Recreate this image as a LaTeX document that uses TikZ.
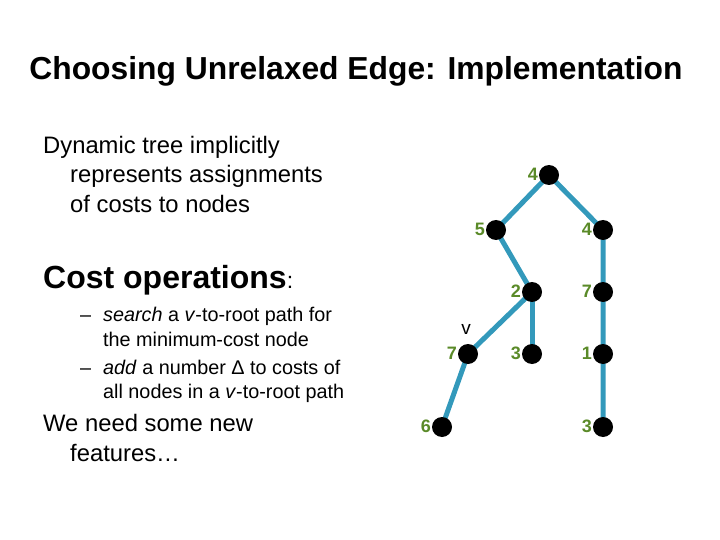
\documentclass[tikz,border=0pt]{standalone}
\usepackage{fontspec}
\setmainfont{Liberation Sans}
\begin{document}
\begin{tikzpicture}[x=1pt,y=-1pt,
  vert/.style={circle,fill=black,minimum size=20pt,inner sep=0pt},
  edge/.style={line width=5pt,draw={rgb,255:red,51;green,153;blue,187}},
  cost/.style={text={rgb,255:red,90;green,138;blue,40},font=\bfseries\fontsize{18}{18}\selectfont,anchor=east,inner sep=0pt},
  txt/.style={anchor=base west,inner sep=0pt,font=\fontsize{23.8}{24}\selectfont},
  sub/.style={anchor=base west,inner sep=0pt,font=\fontsize{19.8}{20}\selectfont}]
\useasboundingbox (0,0) rectangle (720,540);
\node[anchor=base,inner sep=0pt,font=\bfseries\fontsize{31.8}{32}\selectfont] (title) at (356,80) {Choosing Unrelaxed Edge: Implementation};
\node[txt] (l1) at (43,154) {Dynamic tree implicitly};
\node[txt] (l2) at (70,183) {represents assignments};
\node[txt] (l3) at (70,212) {of costs to nodes};
\node[txt,font=\bfseries\fontsize{32}{32}\selectfont] (co) at (43,288) {Cost operations\textmd{\fontsize{23}{23}\selectfont:}};
\node[sub] (d1) at (80,321) {–};
\node[sub] (s1) at (103,321) {\textit{search} a \textit{v}-to-root path for};
\node[sub] (s2) at (103,346) {the minimum-cost node};
\node[sub] (d2) at (80,374) {–};
\node[sub] (s3) at (103,374) {\textit{add} a number Δ to costs of};
\node[sub] (s4) at (103,398) {all nodes in a \textit{v}-to-root path};
\node[txt] (w1) at (43,431) {We need some new};
\node[txt] (w2) at (70,461) {features…};
% tree
\coordinate (pa) at (549,175);
\coordinate (pb) at (496,230);
\coordinate (pc) at (603,230);
\coordinate (pd) at (532,292);
\coordinate (pe) at (603,292);
\coordinate (pf) at (468,354);
\coordinate (pg) at (532,354);
\coordinate (ph) at (603,354);
\coordinate (pi) at (442,427);
\coordinate (pj) at (603,427);
\draw[edge] (pa) -- (pb) -- (pd) -- (pf) -- (pi);
\draw[edge] (pd) -- (pg);
\draw[edge] (pa) -- (pc) -- (pe) -- (ph) -- (pj);
\foreach \n/\c in {a/4,b/5,c/4,d/2,e/7,f/7,g/3,h/1,i/6,j/3}{
  \node[vert] (n\n) at (p\n) {};
  \node[cost] (c\n) at ([xshift=-11pt,yshift=1pt]p\n) {\c};
}
\node[font=\fontsize{19}{19}\selectfont,inner sep=0pt] (vl) at (466,329) {v};
\end{tikzpicture}
\end{document}
